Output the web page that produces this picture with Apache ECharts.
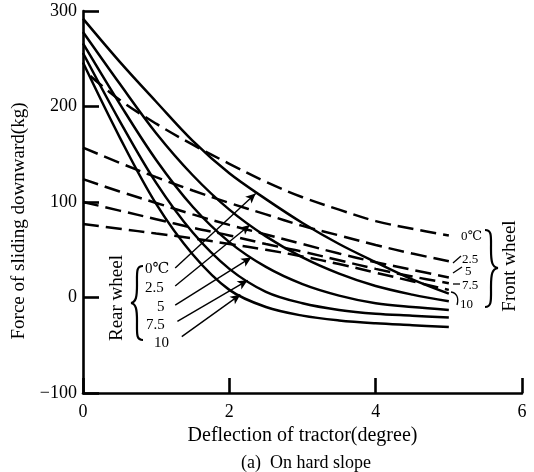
<!DOCTYPE html>
<html>
<head>
<meta charset="utf-8">
<script src="https://cdn.jsdelivr.net/npm/echarts@6/dist/echarts.min.js"></script>
<style>html,body{margin:0;padding:0;background:#fff;}#c{width:534px;height:472px;}</style>
</head>
<body>
<div id="c"></div>
<script>
// ---- data ----
var xTicks = [0, 2, 4, 6];
var yTicks = [-100, 0, 100, 200, 300];
var xs = [0, 0.5, 1, 1.5, 2, 2.5, 3, 3.5, 4, 4.5, 5];
var xsFront0 = [0.1, 0.5, 1, 1.5, 2, 2.5, 3, 3.5, 4, 4.5, 5];

// Rear wheel (solid)
var rear0   = [292, 247, 205, 164, 130, 103, 78, 56, 37, 19, 4];
var rear25  = [278, 224, 172, 128, 92, 64, 42, 25, 12, 3, -4];
var rear5   = [266, 203, 144, 95, 58, 32, 14, 2, -6, -10, -13];
var rear75  = [256, 185, 120, 68, 30, 6, -6, -13, -17, -19, -21];
var rear10  = [246, 168, 98, 45, 8, -10, -19, -24, -27, -29, -31];

// Front wheel (dashed)
var front0  = [232, 207, 182, 160, 140, 121, 105, 92, 80, 72, 65];
var front25 = [157, 141, 126, 112, 99, 87, 75, 65, 55, 46, 38];
var front5  = [124, 111, 99, 87, 76, 66, 56, 46, 37, 29, 21];
var front75 = [100, 91, 82, 73, 65, 56, 48, 39, 30, 22, 15];
var front10 = [77, 72, 67, 62, 56, 50, 43, 35, 26, 17, 8];

// Arrows from rear-wheel labels to curves: [tailX, tailY, headX, headY]
var rearArrows = [
  [1.26, 31, 2.36, 109],
  [1.26, 12, 2.28, 76],
  [1.26, -8, 2.30, 42],
  [1.29, -25, 2.25, 18],
  [1.35, -41, 2.15, 3]
];

function pairs(x, y) { return x.map(function (v, i) { return [v, y[i]]; }); }

var chart = echarts.init(document.getElementById('c'));
var serif = "'Liberation Serif', 'DejaVu Serif', serif";

function solid(name, y, arrow) {
  var s = {
    name: name, type: 'line', data: pairs(xs, y), smooth: 0.35, showSymbol: false,
    lineStyle: { color: '#000', width: 2.5 }, silent: true, z: 3
  };
  if (arrow) {
    s.markLine = {
      silent: true, symbol: ['none', 'arrow'], symbolSize: [7, 10],
      label: { show: false },
      lineStyle: { color: '#000', width: 1.4, type: 'solid' },
      data: [[{ coord: [arrow[0], arrow[1]] }, { coord: [arrow[2], arrow[3]] }]]
    };
  }
  return s;
}
function dashed(name, x, y) {
  return {
    name: name, type: 'line', data: pairs(x, y), smooth: 0.35, showSymbol: false,
    lineStyle: { color: '#000', width: 2.5, type: [16, 7] }, silent: true, z: 2
  };
}

var txt = function (t, x, y, size, align, rot) {
  return {
    type: 'text', x: x, y: y, rotation: rot || 0, z: 10,
    style: { text: t, font: (size || 13) + 'px ' + serif, fill: '#000',
             textAlign: align || 'left', textVerticalAlign: 'middle' }
  };
};
var seg = function (x1, y1, x2, y2) {
  return { type: 'line', z: 10, shape: { x1: x1, y1: y1, x2: x2, y2: y2 },
           style: { stroke: '#000', lineWidth: 1.3 } };
};
var bez = function (x1, y1, c1x, c1y, c2x, c2y, x2, y2, w) {
  return { type: 'bezierCurve', z: 10,
           shape: { x1: x1, y1: y1, cpx1: c1x, cpy1: c1y, cpx2: c2x, cpy2: c2y, x2: x2, y2: y2 },
           style: { fill: null, stroke: '#000', lineWidth: w || 2.2 } };
};

chart.setOption({
  animation: false,
  backgroundColor: '#fff',
  grid: { left: 83, top: 11, right: 12, bottom: 79 },
  xAxis: {
    type: 'value', min: 0, max: 6, interval: 2,
    name: 'Deflection of tractor(degree)', nameLocation: 'middle', nameGap: 32,
    nameTextStyle: { fontFamily: serif, fontSize: 20, color: '#000' },
    axisLine: { onZero: false, lineStyle: { color: '#000', width: 2.6 } },
    axisTick: { inside: true, length: 15, lineStyle: { color: '#000', width: 2.6 } },
    axisLabel: { fontFamily: serif, fontSize: 18, color: '#000', margin: 10 },
    splitLine: { show: false }
  },
  yAxis: {
    type: 'value', min: -100, max: 300, interval: 100,
    name: 'Force of sliding downward(kg)', nameLocation: 'middle', nameGap: 48, nameRotate: 90,
    nameTextStyle: { fontFamily: serif, fontSize: 19, color: '#000', padding: [0, 38, 0, 0] },
    axisLine: { onZero: false, lineStyle: { color: '#000', width: 2.6 } },
    axisTick: { inside: true, length: 16, lineStyle: { color: '#000', width: 2.6 } },
    axisLabel: { fontFamily: serif, fontSize: 18, color: '#000', margin: 6,
                 formatter: function (v) { return v < 0 ? '\u2212' + Math.abs(v) : String(v); } },
    splitLine: { show: false }
  },
  series: [
    solid('R0', rear0, rearArrows[0]),
    solid('R2.5', rear25, rearArrows[1]),
    solid('R5', rear5, rearArrows[2]),
    solid('R7.5', rear75, rearArrows[3]),
    solid('R10', rear10, rearArrows[4]),
    dashed('F0', xsFront0, front0),
    dashed('F2.5', xs, front25),
    dashed('F5', xs, front5),
    dashed('F7.5', xs, front75),
    dashed('F10', xs, front10)
  ],
  graphic: [
    // rear wheel labels
    txt('0\u2103', 145, 269, 15),
    txt('2.5', 145, 288, 15),
    txt('5', 157, 307, 15),
    txt('7.5', 146, 325, 15),
    txt('10', 154, 343, 15),
    txt('Rear wheel', 117, 298, 19, 'center', Math.PI / 2),
    bez(143, 266, 136, 266, 137, 272, 137, 285),
    bez(137, 285, 137, 297, 136, 302, 131, 303),
    bez(131, 303, 136, 304, 137, 309, 137, 321),
    bez(137, 321, 137, 334, 136, 340, 143, 340),
    // front wheel labels
    txt('0\u2103', 461, 237, 13),
    txt('2.5', 462, 260, 13),
    txt('5', 465, 272, 13),
    txt('7.5', 462, 286, 13),
    txt('10', 460, 305, 13),
    seg(453, 263, 461, 256),
    seg(453, 273, 462, 267),
    seg(453, 284, 460, 284),
    bez(451, 292, 457, 293, 459, 298, 457, 305, 1.3),
    bez(485, 230, 492, 230, 491, 236, 491, 249),
    bez(491, 249, 491, 262, 492, 267, 498, 268),
    bez(498, 268, 492, 269, 491, 274, 491, 287),
    bez(491, 287, 491, 300, 492, 307, 485, 307),
    txt('Front wheel', 510, 266, 19, 'center', Math.PI / 2),
    // caption
    txt('(a)  On hard slope', 306, 463, 18, 'center')
  ]
});
</script>
</body>
</html>
